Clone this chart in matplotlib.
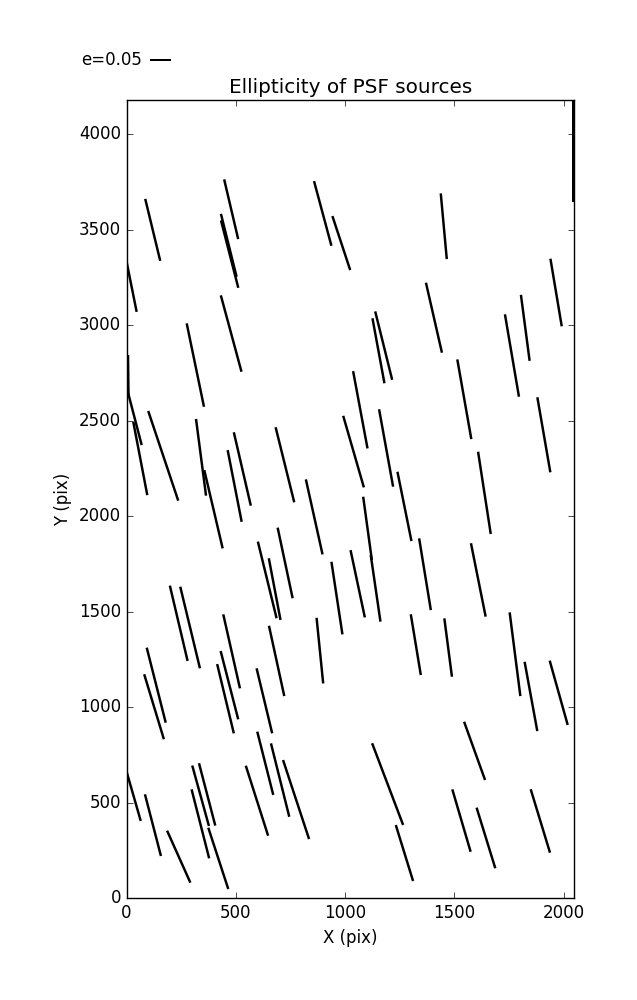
import matplotlib
matplotlib.use('Agg')
import matplotlib.pyplot as plt

plt.style.use('classic')

# PSF star positions on the chip (pix)
x_pix = [479, 120, 468, 472, 898, 983, 19, 315, 479, 2044,
         1452, 1407, 1966, 1825, 1764, 1177, 1153, 1546, 8, 34,
         63, 168, 341, 398, 530, 495, 725, 859, 1039, 726,
         644, 678, 963, 239, 291, 481, 687, 885, 1070, 1188,
         1272, 1103, 1140, 1058, 1366, 1910, 1638, 1610, 1324, 1472,
         1778, 1851, 1978, 1593, 1195, 1272, 1533, 1645, 1894, 136,
         126, 471, 453, 631, 27, 121, 239, 339, 369, 338,
         420, 597, 635, 703, 776]
y_pix = [3608, 3500, 3419, 3373, 3586, 3431, 3227, 2792, 2957, 3934,
         3519, 3040, 3172, 2987, 2842, 2894, 2867, 2613, 2735, 2529,
         2303, 2317, 2309, 2037, 2248, 2159, 2270, 1997, 2339, 1756,
         1667, 1619, 1572, 1440, 1418, 1293, 1243, 1297, 2558, 2358,
         2052, 1937, 1623, 1647, 1697, 2427, 2123, 1667, 1328, 1313,
         1278, 1057, 1076, 772, 598, 237, 407, 316, 405, 1116,
         1003, 1116, 1045, 1034, 557, 383, 218, 537, 544, 390,
         209, 511, 707, 619, 517]

# ellipticity sticks (components along x and y)
e_u = [-0.0326, -0.0349, -0.0365, -0.0402, -0.0405, -0.0414, -0.0279, -0.0402, -0.0481, 0.0,
       -0.0140, -0.0372, -0.0263, -0.0202, -0.0326, -0.0395, -0.0279, -0.0326, -0.0012, -0.0361,
       -0.0326, -0.0698, -0.0233, -0.0428, -0.0395, -0.0326, -0.0433, -0.0388, -0.0481, -0.0349,
       -0.0435, -0.0272, -0.0256, -0.0412, -0.0458, -0.0388, -0.0356, -0.0154, -0.0335, -0.0326,
       -0.0326, -0.0202, -0.0226, -0.0333, -0.0272, -0.0302, -0.0295, -0.0342, -0.0233, -0.0177,
       -0.0249, -0.0295, -0.0419, -0.0488, -0.0721, -0.0402, -0.0426, -0.0435, -0.0449, -0.0442,
       -0.0458, -0.0409, -0.0388, -0.0363, -0.0388, -0.0372, -0.0542, -0.0388, -0.0379, -0.0409,
       -0.0465, -0.0519, -0.0372, -0.0426, -0.0605]
e_v = [0.1389, 0.1442, 0.1465, 0.1568, 0.1505, 0.1256, 0.1389, 0.1940, 0.1777, 0.2560,
       0.1528, 0.1628, 0.1572, 0.1535, 0.1917, 0.1591, 0.1512, 0.1854, 0.0977, 0.1384,
       0.1705, 0.2086, 0.1784, 0.1821, 0.1707, 0.1668, 0.1745, 0.1745, 0.1665, 0.1642,
       0.1782, 0.1435, 0.1689, 0.1751, 0.1898, 0.1721, 0.1635, 0.1526, 0.1798, 0.1800,
       0.1612, 0.1472, 0.1551, 0.1565, 0.1668, 0.1745, 0.1914, 0.1707, 0.1412, 0.1358,
       0.1947, 0.1612, 0.1496, 0.1356, 0.1900, 0.1303, 0.1451, 0.1410, 0.1475, 0.1745,
       0.1512, 0.1589, 0.1612, 0.1512, 0.1349, 0.1435, 0.1210, 0.1407, 0.1451, 0.1605,
       0.1426, 0.1628, 0.1472, 0.1707, 0.1838]

key_e = 0.05

fig = plt.figure(figsize=(6.37, 10), dpi=100, facecolor='white')
ax = fig.add_axes([0.1986, 0.1017, 0.7025, 0.7983])

q = ax.quiver(x_pix, y_pix, e_u, e_v, pivot='middle', color='k',
              headwidth=0, headlength=0, headaxislength=0,
              scale=0.2326, scale_units='inches', width=0.0055)
# key arrow starts at X for labelpos='W'
ax.quiverkey(q, 0.236, 0.94, key_e, 'e=%.2f' % key_e, labelpos='W',
             labelsep=0.08, coordinates='figure', fontproperties={'size': 12})

ax.set_xlim(0, 2048)
ax.set_ylim(0, 4180)
ax.set_xticks(range(0, 2001, 500))
ax.set_yticks(range(0, 4001, 500))
ax.set_xlabel('X (pix)')
ax.set_ylabel('Y (pix)')
ax.set_title('Ellipticity of PSF sources')

fig.savefig('out.png', dpi=100, facecolor='white')
